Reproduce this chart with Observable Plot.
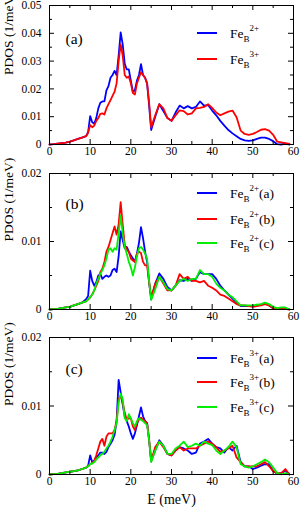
<!DOCTYPE html>
<html><head><meta charset="utf-8">
<script src="https://cdn.jsdelivr.net/npm/d3@7"></script>
<script src="https://cdn.jsdelivr.net/npm/@observablehq/plot@0.6"></script>
<style>
body{margin:0;background:#fff;}
#chart{position:relative;width:302px;height:512px;}
#chart svg{position:absolute;left:0;overflow:visible;}
</style></head><body><div id="chart"></div>
<script>
// Energy grid (meV)
const energy = [0,1,2,3,4,5,6,7,8,9,9.5,10,10.5,11,11.5,12,12.5,13,13.5,14,14.5,15,15.5,16,16.5,17,17.5,18,18.5,19,19.5,20,20.5,21,21.5,22,22.5,23,23.5,24,24.5,25,26,27,28,29,30,31,32,33,34,35,36,37,38,39,40,41,42,43,44,45,46,47,48,49,50,51,52,53,54,55,56,57,58,59];

// Panel (a)
const feB2 = [0,0.0001,0.0003,0.0005,0.0007,0.001,0.0015,0.002,0.0025,0.003,0.0045,0.0102,0.008,0.0075,0.0095,0.013,0.015,0.0155,0.0155,0.0195,0.021,0.024,0.025,0.0265,0.025,0.032,0.0403,0.036,0.029,0.027,0.027,0.023,0.019,0.0195,0.023,0.025,0.0289,0.025,0.024,0.022,0.014,0.0052,0.010,0.0145,0.012,0.0095,0.0085,0.0115,0.014,0.013,0.0138,0.013,0.0135,0.0155,0.014,0.0142,0.0122,0.0105,0.0085,0.0068,0.0052,0.004,0.003,0.002,0.0015,0.0013,0.0015,0.002,0.0025,0.0025,0.002,0.0012,0.0001,0,0.0003,0];
const feB3 = [0,0.0001,0.0003,0.0005,0.0007,0.001,0.0015,0.002,0.0025,0.003,0.0042,0.007,0.0062,0.0068,0.0085,0.0095,0.011,0.0112,0.0108,0.013,0.0145,0.016,0.0175,0.019,0.022,0.030,0.036,0.032,0.025,0.024,0.0245,0.022,0.0185,0.018,0.022,0.024,0.026,0.025,0.024,0.022,0.015,0.0062,0.0105,0.0145,0.013,0.0095,0.0085,0.0105,0.0123,0.012,0.0108,0.0112,0.013,0.0132,0.0135,0.0145,0.0132,0.0115,0.0105,0.0112,0.0118,0.0122,0.0098,0.005,0.0038,0.0035,0.0038,0.0045,0.0053,0.0055,0.005,0.0035,0.001,0.0008,0.0005,0.0002];

// Panel (b)
const feB2a = [0,0.00005,0.0001,0.0002,0.0003,0.0004,0.0006,0.0008,0.001,0.0015,0.002,0.0057,0.0042,0.0035,0.004,0.005,0.0052,0.0045,0.0048,0.005,0.0048,0.005,0.0058,0.006,0.0055,0.0078,0.0115,0.0102,0.009,0.0092,0.0085,0.008,0.0075,0.007,0.0082,0.0098,0.0121,0.0105,0.0085,0.007,0.004,0.0015,0.0038,0.0053,0.0045,0.0033,0.0028,0.0035,0.0043,0.0042,0.0045,0.0042,0.0045,0.0055,0.0052,0.0052,0.0052,0.0045,0.0035,0.0028,0.0022,0.0016,0.001,0.0005,0.0005,0.0005,0.0005,0.0006,0.0007,0.0009,0.0006,0.0002,0.0001,0.0001,0.0002,0];
const feB2b = [0,0.00005,0.0001,0.0002,0.0003,0.0004,0.0006,0.0008,0.001,0.0012,0.0015,0.0018,0.0022,0.0028,0.0035,0.0042,0.0055,0.006,0.007,0.0085,0.0092,0.0102,0.0112,0.0122,0.011,0.0125,0.0158,0.0125,0.0095,0.0088,0.0085,0.0075,0.0072,0.007,0.0082,0.0085,0.0083,0.007,0.0065,0.0065,0.004,0.0018,0.0038,0.0048,0.0038,0.0028,0.0028,0.0035,0.0052,0.0045,0.0048,0.0042,0.0042,0.004,0.0042,0.0035,0.0032,0.0028,0.0022,0.002,0.0016,0.0012,0.0008,0.0006,0.0006,0.0005,0.0004,0.0005,0.0006,0.0008,0.0006,0.0002,0.0001,0.0001,0.0001,0];
const feB2c = [0,0.00005,0.0001,0.0002,0.0003,0.0004,0.0006,0.0008,0.001,0.0012,0.0015,0.0018,0.0022,0.0028,0.0038,0.0045,0.0052,0.0058,0.0065,0.0075,0.0088,0.009,0.0085,0.009,0.0088,0.0112,0.0138,0.0112,0.0092,0.0082,0.007,0.0062,0.005,0.0062,0.0078,0.009,0.0092,0.0088,0.0082,0.0075,0.0042,0.0014,0.003,0.0048,0.004,0.003,0.0028,0.0035,0.0042,0.0045,0.0042,0.0045,0.0045,0.0058,0.0052,0.0052,0.0048,0.0038,0.0032,0.0028,0.0022,0.0018,0.0012,0.0006,0.0006,0.0006,0.0006,0.0007,0.0008,0.001,0.0008,0.0004,0.0002,0.0003,0.0003,0];

// Panel (c)
const feB3a = [0,0.00005,0.0001,0.0002,0.0003,0.0004,0.0005,0.0006,0.0008,0.001,0.0013,0.0028,0.0018,0.002,0.0025,0.0028,0.0032,0.0032,0.003,0.0033,0.004,0.0045,0.005,0.0058,0.0078,0.0138,0.012,0.0102,0.0085,0.0078,0.007,0.006,0.0052,0.006,0.0072,0.0085,0.0098,0.0085,0.0078,0.0075,0.005,0.002,0.0035,0.005,0.0042,0.003,0.0028,0.0035,0.004,0.0038,0.0035,0.003,0.0032,0.0045,0.0048,0.0052,0.0045,0.004,0.0038,0.0032,0.004,0.0035,0.0042,0.0018,0.0012,0.0012,0.0008,0.001,0.0013,0.0015,0.0015,0.0005,0.0001,0.0002,0.0006,0];
const feB3b = [0,0.00005,0.0001,0.0002,0.0003,0.0004,0.0005,0.0006,0.0008,0.001,0.0012,0.0015,0.0017,0.002,0.0028,0.0038,0.0048,0.0052,0.0042,0.0055,0.006,0.006,0.006,0.0065,0.0078,0.011,0.0115,0.0105,0.009,0.008,0.0082,0.0082,0.007,0.0065,0.0075,0.008,0.0083,0.008,0.0078,0.0075,0.005,0.002,0.004,0.0048,0.004,0.003,0.0028,0.0035,0.004,0.0035,0.0038,0.0038,0.0038,0.0042,0.0045,0.0048,0.0045,0.004,0.0033,0.0035,0.0038,0.0042,0.0025,0.0018,0.0012,0.0012,0.0012,0.0012,0.0015,0.0018,0.0012,0.0005,0.0002,0.0002,0.0008,0];
const feB3c = [0,0.00005,0.0001,0.0002,0.0003,0.0004,0.0005,0.0006,0.0008,0.001,0.0012,0.0015,0.0016,0.0018,0.0022,0.0025,0.0028,0.003,0.0033,0.0038,0.0042,0.0048,0.0055,0.0065,0.0075,0.0105,0.0118,0.011,0.0082,0.0078,0.0088,0.0082,0.0075,0.007,0.0078,0.0082,0.008,0.0078,0.0075,0.0072,0.005,0.0018,0.0035,0.0048,0.0042,0.003,0.003,0.0038,0.0042,0.0048,0.004,0.0042,0.0045,0.0042,0.0048,0.0045,0.0043,0.0035,0.003,0.0035,0.004,0.0048,0.004,0.0015,0.0012,0.001,0.0012,0.0015,0.0018,0.0022,0.0018,0.001,0.0002,0,0.0002,0];

// Axis ticks and labels
const xMajor = [0,10,20,30,40,50,60];
const xMinor = [5,15,25,35,45,55];
const yMajorA = [0,0.01,0.02,0.03,0.04,0.05];
const yMajorALabels = ["0","0.01","0.02","0.03","0.04","0.05"];
const yMinorA = [0.005,0.015,0.025,0.035,0.045];
const yMajorBC = [0,0.01,0.02];
const yMajorBCLabels = ["0","0.01","0.02"];
const yMinorBC = [0.005,0.015];
const panelTags = ["(a)","(b)","(c)"];
const yTitle = "PDOS (1/meV)";
const xTitle = "E (meV)";
const colors = ["#0000ff","#ff0000","#00ee00"];

const FONT = "'Liberation Serif', serif";
const W = 302, ML = 49, MR = 9;

function panel(cfg) {
  const {top, height, mt, mb, yMax, yMajor, yLabels, yMinor, series, tag, legendY, xLabel} = cfg;
  const fh = height - mt - mb, fw = W - ML - MR;
  const rows = series.flatMap(s => energy.map((e, i) => ({E: e, v: s.values[i], key: s.key})));
  const marks = [
    Plot.line(rows, {x: "E", y: "v", z: "key", stroke: "key", strokeWidth: 1.8, curve: "linear"}),
    Plot.frame({stroke: "#000", strokeWidth: 1}),
    Plot.tickX(xMajor, {x: d => d, insetTop: fh - 5, stroke: "#000"}),
    Plot.tickX(xMajor, {x: d => d, insetBottom: fh - 5, stroke: "#000"}),
    Plot.tickX(xMinor, {x: d => d, insetTop: fh - 3, stroke: "#000"}),
    Plot.tickX(xMinor, {x: d => d, insetBottom: fh - 3, stroke: "#000"}),
    Plot.tickY(yMajor, {y: d => d, insetRight: fw - 5, stroke: "#000"}),
    Plot.tickY(yMajor, {y: d => d, insetLeft: fw - 5, stroke: "#000"}),
    Plot.tickY(yMinor, {y: d => d, insetRight: fw - 3, stroke: "#000"}),
    Plot.tickY(yMinor, {y: d => d, insetLeft: fw - 3, stroke: "#000"}),
    Plot.axisX({ticks: xMajor, tickSize: 0, tickPadding: 2, label: null, fontSize: 11.5}),
    Plot.axisY({ticks: yMajor, tickSize: 0, tickPadding: 8, label: null, fontSize: 11.5,
      tickFormat: d => yLabels[yMajor.indexOf(d)]}),
    Plot.text([yTitle], {text: d => d, frameAnchor: "left", rotate: -90, dx: -41, dy: 0, fontSize: 13.5}),
    Plot.text([tag], {text: d => d, frameAnchor: "top-left", textAnchor: "start", dx: 16, dy: cfg.tagDy, fontSize: 15.5})
  ];
  if (xLabel) marks.push(Plot.text([xLabel], {text: d => d, frameAnchor: "bottom", dy: 29, fontSize: 14}));
  const svg = Plot.plot({
    width: W, height, marginLeft: ML, marginRight: MR, marginTop: mt, marginBottom: mb,
    style: {fontSize: "11.5px", color: "#000", background: "transparent"},
    x: {domain: [0, 60]},
    y: {domain: [0, yMax]},
    color: {domain: series.map(s => s.key), range: series.map(s => s.color)},
    marks
  });
  svg.style.top = top + "px";
  svg.setAttribute("font-family", FONT);
  svg.style.fontFamily = FONT;
  // legend
  const g = d3.select(svg).append("g").attr("fill", "#000").attr("text-anchor", "start");
  series.forEach((s, i) => {
    const y = mt + legendY[i];
    g.append("line").attr("x1", 197).attr("x2", 217).attr("y1", y).attr("y2", y)
      .attr("stroke", s.color).attr("stroke-width", 2);
    const t = g.append("text").attr("x", 230).attr("y", y + 5).attr("font-size", 13.5);
    t.append("tspan").text("Fe");
    t.append("tspan").attr("dy", 3.5).attr("font-size", 9).text("B");
    t.append("tspan").attr("dy", -10.5).attr("font-size", 9).text(s.charge);
    if (s.site) t.append("tspan").attr("dy", 7).text(s.site);
  });
  d3.select(svg).selectAll("text").style("font-family", FONT);
  document.getElementById("chart").appendChild(svg);
}

panel({top: 0, height: 160, mt: 5, mb: 16, yMax: 0.05, yMajor: yMajorA, yLabels: yMajorALabels, yMinor: yMinorA,
  tag: panelTags[0], tagDy: 27, legendY: [28, 54],
  series: [
    {key: "Fe2+", values: feB2, color: colors[0], charge: "2+"},
    {key: "Fe3+", values: feB3, color: colors[1], charge: "3+"}
  ]});
panel({top: 160, height: 165, mt: 13, mb: 16, yMax: 0.02, yMajor: yMajorBC, yLabels: yMajorBCLabels, yMinor: yMinorBC,
  tag: panelTags[1], tagDy: 24, legendY: [20, 46, 70],
  series: [
    {key: "2a", values: feB2a, color: colors[0], charge: "2+", site: "(a)"},
    {key: "2b", values: feB2b, color: colors[1], charge: "2+", site: "(b)"},
    {key: "2c", values: feB2c, color: colors[2], charge: "2+", site: "(c)"}
  ]});
panel({top: 325, height: 187, mt: 12, mb: 38, yMax: 0.02, yMajor: yMajorBC, yLabels: yMajorBCLabels, yMinor: yMinorBC,
  tag: panelTags[2], tagDy: 25, legendY: [21, 45, 70], xLabel: xTitle,
  series: [
    {key: "3a", values: feB3a, color: colors[0], charge: "3+", site: "(a)"},
    {key: "3b", values: feB3b, color: colors[1], charge: "3+", site: "(b)"},
    {key: "3c", values: feB3c, color: colors[2], charge: "3+", site: "(c)"}
  ]});
</script></body></html>
